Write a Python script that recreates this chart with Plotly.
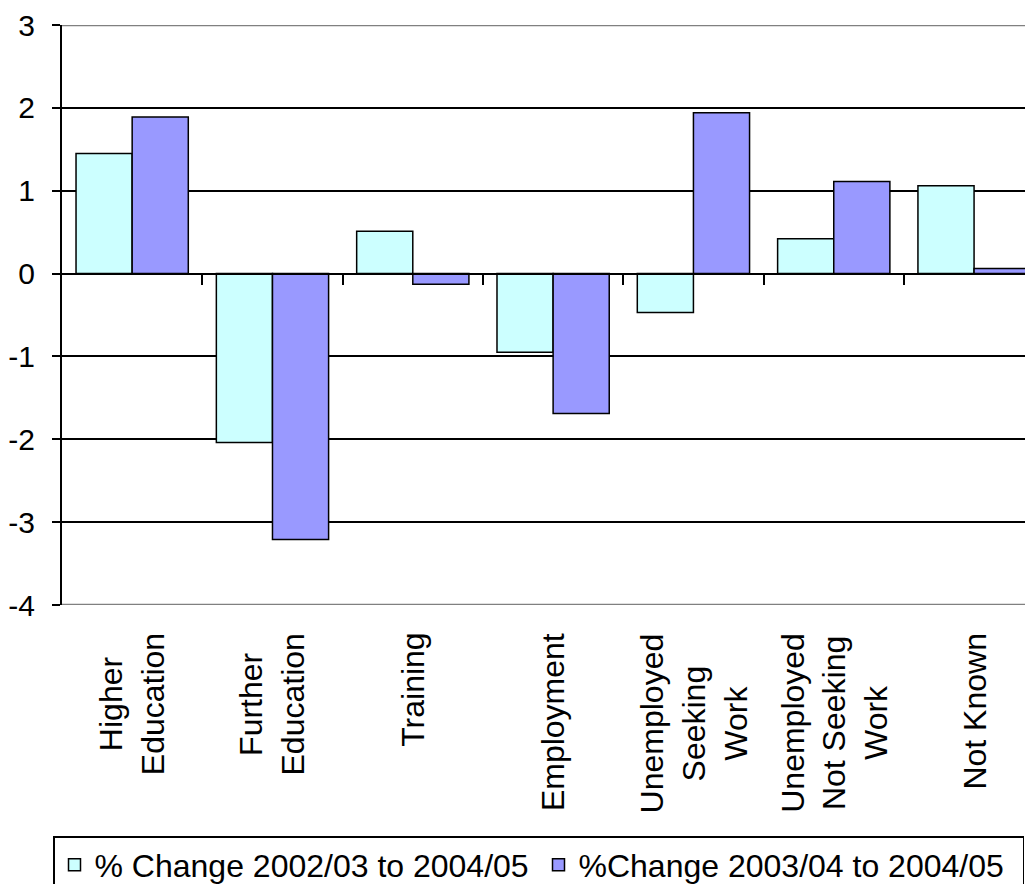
import plotly.graph_objects as go

categories = ["Higher<br>Education", "Further<br>Education", "Training", "Employment",
              "Unemployed<br>Seeking<br>Work", "Unemployed<br>Not Seeking<br>Work", "Not Known"]
series1_name = "% Change 2002/03 to 2004/05"
series1 = [1.45, -2.04, 0.51, -0.95, -0.47, 0.42, 1.06]
series2_name = "%Change 2003/04 to 2004/05"
series2 = [1.89, -3.21, -0.13, -1.69, 1.94, 1.11, 0.06]
y_ticks = [3, 2, 1, 0, -1, -2, -3, -4]

FONT = "Liberation Sans, Arial, sans-serif"
n = len(categories)

# the page body adds an 8px offset; figure is sized to fill the rest of the window
W, H = 1025, 876

fig = go.Figure()
fig.add_trace(go.Bar(x=categories, y=series1, name=series1_name,
                     marker=dict(color="#CCFFFF", line=dict(color="black", width=1.5))))
fig.add_trace(go.Bar(x=categories, y=series2, name=series2_name,
                     marker=dict(color="#9999FF", line=dict(color="black", width=1.5))))

ymin, ymax = min(y_ticks), max(y_ticks)
xrange = [-0.5, n - 0.5 - 0.08]
fig.update_layout(
    width=W, height=H,
    margin=dict(l=54, r=0, t=17, b=279, autoexpand=False),
    plot_bgcolor="white", paper_bgcolor="white",
    barmode="group", bargap=0.2, bargroupgap=0,
    font=dict(family=FONT, size=30, color="black"),
    xaxis=dict(type="category", categoryorder="array", categoryarray=categories,
               range=xrange, showgrid=False, ticks="", showline=False,
               showticklabels=False, automargin=False),
    xaxis2=dict(overlaying="x", anchor="free", position=(0 - ymin) / (ymax - ymin),
                range=xrange, tickmode="array",
                tickvals=[i + 0.5 for i in range(n - 1)], showticklabels=False,
                ticks="outside", ticklen=10, tickwidth=2, tickcolor="black",
                showline=True, linecolor="black", linewidth=2, showgrid=False,
                zeroline=False, automargin=False),
    yaxis=dict(range=[ymin, ymax], tickmode="array", tickvals=y_ticks,
               ticktext=[str(v) for v in y_ticks],
               showgrid=True, gridcolor="black", gridwidth=2,
               zeroline=False, showline=True, linecolor="black", linewidth=2,
               ticks="outside", ticklen=8, tickwidth=2, tickcolor="black",
               tickfont=dict(size=30), ticklabelstandoff=11, automargin=False),
    legend=dict(orientation="h", xref="container", yref="container",
                x=45 / W, xanchor="left", y=1 - 828 / H, yanchor="top",
                bordercolor="black", borderwidth=1.5, bgcolor="white",
                font=dict(size=32), entrywidth=439, traceorder="normal"),
    showlegend=True,
    shapes=[
        dict(type="line", xref="paper", yref="y", x0=0, x1=1, y0=ymax, y1=ymax,
             line=dict(color="#808080", width=2.5)),
        dict(type="line", xref="paper", yref="y", x0=0, x1=1, y0=ymin, y1=ymin,
             line=dict(color="#808080", width=2.5)),
    ],
)

for cat in categories:
    fig.add_annotation(x=cat, xref="x", y=0, yref="paper", yshift=-26,
                       text=cat, textangle=-90, align="center",
                       xanchor="center", yanchor="top", showarrow=False,
                       font=dict(family=FONT, size=32, color="black"))

# invisible trace so that xaxis2 is rendered
fig.add_trace(go.Scatter(x=[0], y=[0], xaxis="x2", mode="markers",
                         marker=dict(opacity=0), showlegend=False, hoverinfo="skip"))

fig.write_html("out.html")
